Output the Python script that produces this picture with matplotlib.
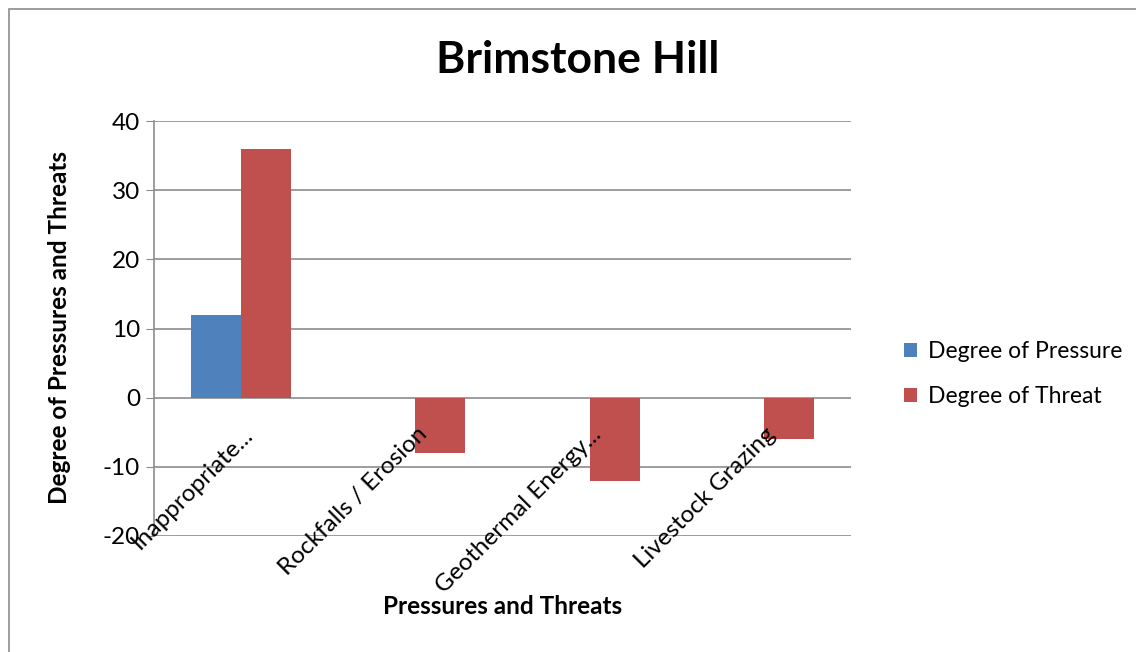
import matplotlib
matplotlib.use("Agg")
import matplotlib.pyplot as plt
import matplotlib.transforms as mtransforms
from matplotlib.patches import Rectangle
import numpy as np

categories = ["Inappropriate...", "Rockfalls / Erosion", "Geothermal Energy...", "Livestock Grazing"]
pressure = [12, 0, 0, 0]
threat = [36, -8, -12, -6]
yticks = [-20, -10, 0, 10, 20, 30, 40]

plt.rcParams['font.family'] = ['Lato', 'DejaVu Sans']

fig = plt.figure(figsize=(11.36, 6.52), dpi=100)
ax = fig.add_axes([154 / 1136, 1 - 536 / 652, 697 / 1136, 415 / 652])

# outer chart frame
fig.patches.append(Rectangle((9 / 1136, -0.05), 1.2, 1 - 9 / 652 + 0.05,
                             transform=fig.transFigure, fill=False,
                             edgecolor='#8c8c8c', linewidth=1.2))

x = np.arange(len(categories))
w = 0.287
ax.bar(x - w / 2, pressure, w, color='#4F81BD', label='Degree of Pressure', zorder=3)
ax.bar(x + w / 2, threat, w, color='#C0504D', label='Degree of Threat', zorder=3)

ax.set_xlim(-0.5, len(categories) - 0.5)
ax.set_ylim(-20, 40)
ax.set_yticks(yticks)
ax.set_yticklabels([str(v) for v in yticks], fontsize=17.5)
ax.yaxis.grid(True, color='#8c8c8c', linewidth=1.2, zorder=0)
ax.tick_params(axis='y', length=6, color='#8c8c8c', pad=4)

for s in ['top', 'right', 'bottom']:
    ax.spines[s].set_visible(False)
ax.spines['left'].set_color('#8c8c8c')
ax.spines['left'].set_linewidth(1.2)

# category labels hang from the zero line
ax.set_xticks([])
offset = mtransforms.ScaledTranslation(1 / 100, -26 / 100, fig.dpi_scale_trans)
for i, lab in enumerate(categories):
    ax.text(i, 0, lab, rotation=45, ha='right', va='top', rotation_mode='anchor',
            fontsize=17.5, transform=ax.transData + offset)

fig.text(503 / 1136, 1 - 607 / 652, 'Pressures and Threats', ha='center', va='center',
         fontsize=17.5, fontweight='bold')
fig.text(60 / 1136, 1 - 328 / 652, 'Degree of Pressures and Threats', ha='center', va='center',
         rotation=90, fontsize=17.5, fontweight='bold')
fig.text(578 / 1136, 1 - 60 / 652, 'Brimstone Hill', ha='center', va='center',
         fontsize=32, fontweight='bold')

fig.legend(loc='center left', bbox_to_anchor=(883 / 1136, 1 - 374 / 652), frameon=False,
           fontsize=16.5, handlelength=0.6, handleheight=0.6, labelspacing=1.05,
           handletextpad=0.45)

fig.savefig('out.png', dpi=100)
